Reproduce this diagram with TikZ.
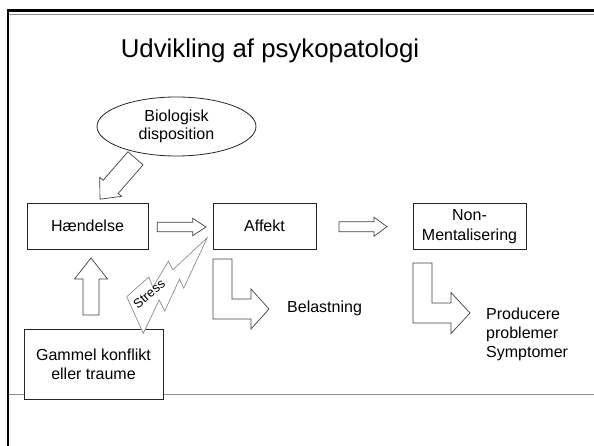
\documentclass[tikz,border=0pt]{standalone}
\usepackage{fontspec}
\setmainfont{Liberation Sans}
\usetikzlibrary{shapes.geometric}

% block arrow: tail centre x, tail centre y, angle, length, shaft half width, head half width, head length
\newcommand{\blockarrow}[7]{%
  \draw[barrow,shift={(#1,#2)},rotate=#3]
    (0,-#5) -- ({#4-#7},-#5) -- ({#4-#7},-#6) -- (#4,0) --
    ({#4-#7},#6) -- ({#4-#7},#5) -- (0,#5) -- cycle;}

\begin{document}
\begin{tikzpicture}[x=1pt,y=-1pt,
  box/.style={draw=black!85,line width=0.8pt,fill=white,
    font=\fontsize{16}{19}\selectfont,align=center,inner sep=0pt},
  barrow/.style={draw=black!75,line width=0.7pt,fill=white,line join=miter},
  bolt/.style={draw=black!50,line width=0.6pt,fill=white,line join=miter},
  lbl/.style={font=\fontsize{16}{19.2}\selectfont,inner sep=0pt}]
\useasboundingbox (0,0) rectangle (594,446);

% slide frame and rules
\draw[black!45,line width=0.6pt] (9,14) -- (594,14);
\draw[black!45,line width=0.6pt] (9,394.3) -- (594,394.3);
\draw[line width=2.6pt,line join=miter] (7.8,446) -- (7.8,10.7) -- (594,10.7);

% title
\node[font=\fontsize{25.8}{31}\selectfont,anchor=base,inner sep=0pt] (title)
  at (270,57.3) {Udvikling af psykopatologi};

% main boxes
\node[ellipse,draw=black!85,line width=0.8pt,fill=white,minimum width=159pt,
  minimum height=59pt,inner sep=0pt,align=center,
  font=\fontsize{16}{18.5}\selectfont] (bio) at (176.5,126.5) {Biologisk\\disposition};
\node[box,minimum width=121pt,minimum height=46pt] (haendelse) at (87.5,226) {Hændelse};
\node[box,minimum width=103pt,minimum height=46pt] (affekt) at (264.5,226) {Affekt};
\node[box,minimum width=113pt,minimum height=46pt,
  font=\fontsize{16}{20}\selectfont] (nonment) at (469.5,226.5) {Non-\\Mentalisering};
\node[box,minimum width=139pt,minimum height=70pt] (gammel) at (93.5,364)
  {Gammel konflikt\\ eller traume};

% block arrows between the boxes
\blockarrow{157.3}{227}{0}{48.7}{4.7}{8.7}{13.3}
\blockarrow{339}{226.7}{0}{48}{5}{9.5}{13}
\blockarrow{91}{315}{90}{57}{8}{16.5}{21}
\blockarrow{135.5}{158.3}{229}{54.2}{10}{14.5}{16.4}

% bent arrows
\draw[barrow] (213,259) -- (232,259) -- (232,299) -- (251,299) -- (251,289)
  -- (269,309) -- (251,329) -- (251,319) -- (213,319) -- cycle;
\draw[barrow] (413,263) -- (432,263) -- (432,303) -- (451,303) -- (451,292.5)
  -- (470,313) -- (451,333.5) -- (451,323) -- (413,323) -- cycle;

% lightning bolt
\draw[bolt] (126.7,296.7) -- (143.3,333.3) -- (159.2,300.0) -- (164.7,311.1)
  -- (179.5,279.2) -- (183.7,288.2) -- (207.3,237.7) -- (172.8,269.9)
  -- (168.4,261.2) -- (152.9,287.2) -- (148.8,277) -- cycle;
\node[font=\fontsize{13}{15}\selectfont,inner sep=0pt,rotate=40] (stress)
  at (149,294) {Stress};

% outcome labels
\node[lbl,anchor=base west] (belast) at (287,312.7) {Belastning};
\node[lbl,anchor=base west,align=left] (produce) at (486,357.7)
  {Producere\\problemer\\Symptomer};
\end{tikzpicture}
\end{document}
